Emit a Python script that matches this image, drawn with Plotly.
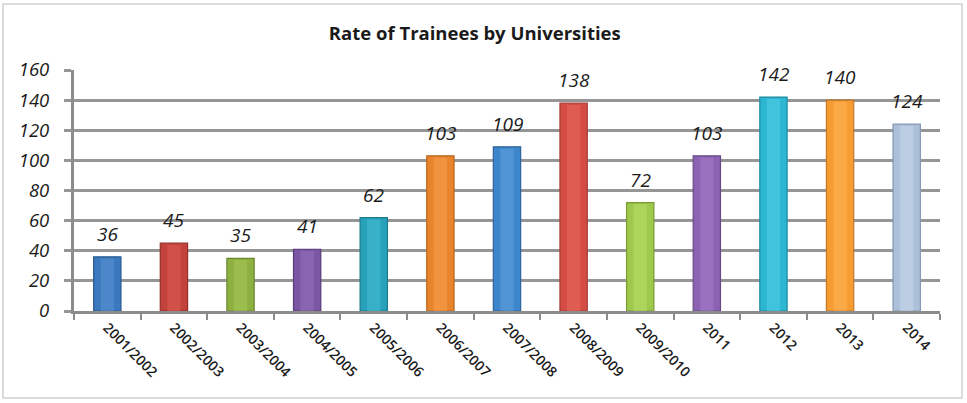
import plotly.graph_objects as go

# Academic years and trainee counts
years = ["2001/2002", "2002/2003", "2003/2004", "2004/2005", "2005/2006",
         "2006/2007", "2007/2008", "2008/2009", "2009/2010", "2011",
         "2012", "2013", "2014"]
trainees = [36, 45, 35, 41, 62, 103, 109, 138, 72, 103, 142, 140, 124]

# Bar body colours and darker edge shades
body_colors = ["#3b78bd", "#c3423b", "#8db040", "#7b56a2", "#28a2bb",
               "#e8842c", "#3e86cb", "#d44d44", "#9fc94c", "#8b63b2",
               "#2cb6d2", "#f79b33", "#adc0da"]
edge_colors = ["#2a5a92", "#93302b", "#6a8730", "#5a3e7a", "#1c7a8e",
               "#b7661f", "#2c6399", "#a63a33", "#789a35", "#684a87",
               "#1f8aa0", "#c47725", "#8296b3"]
shine_colors = ["#5a93d4", "#dc5e56", "#a6c95a", "#9673bd", "#45bdd4",
                "#f7a050", "#5fa0dd", "#e86a60", "#b8df6a", "#a57ec8",
                "#52cde6", "#ffb456", "#c9d8ec"]

fig = go.Figure()

# Main bars
fig.add_trace(go.Bar(
    x=years, y=trainees, width=0.41,
    marker=dict(color=body_colors, line=dict(color=edge_colors, width=1.2)),
    hoverinfo="x+y", showlegend=False,
))
# Lighter centre stripe for a rounded look
fig.add_trace(go.Bar(
    x=years, y=[v - 1.2 for v in trainees], width=0.2,
    marker=dict(color=shine_colors, opacity=0.55, line=dict(width=0)),
    hoverinfo="skip", showlegend=False,
))

# Value labels above bars (positioned by category index)
for i, v in enumerate(trainees):
    fig.add_annotation(
        x=i, y=v, text=str(v), showarrow=False, yanchor="bottom", yshift=8,
        font=dict(family="Open Sans", size=19, color="#1a1a1a", style="italic"),
    )

fig.update_layout(
    width=967, height=403,
    margin=dict(l=74, r=27, t=70, b=92),
    paper_bgcolor="white", plot_bgcolor="white",
    barmode="overlay",
    title=dict(text="<b>Rate of Trainees by Universities</b>", x=0.491, xanchor="center",
               y=0.918, yanchor="middle",
               font=dict(family="Open Sans", size=18.5, color="#1a1a1a")),
    xaxis=dict(
        type="category", range=[-0.5, len(years) - 0.5],
        tickangle=45, tickson="boundaries",
        ticks="outside", ticklen=6, tickwidth=2, tickcolor="#8c8c8c",
        showline=True, linecolor="#8c8c8c", linewidth=3,
        showgrid=False,
        tickfont=dict(family="Open Sans", size=14, color="#1a1a1a", weight=600),
    ),
    yaxis=dict(
        range=[0, 160], dtick=20,
        showgrid=True, gridcolor="#969696", gridwidth=3,
        zeroline=False,
        showline=True, linecolor="#8c8c8c", linewidth=3,
        ticks="outside", ticklen=7, tickwidth=3, tickcolor="#969696",
        ticklabelstandoff=11,
        tickfont=dict(family="Open Sans", size=18.5, color="#1a1a1a", style="italic"),
    ),
    shapes=[dict(type="rect", xref="paper", yref="paper",
                 x0=-71 / 866, x1=1 + 22 / 866, y0=-87 / 241, y1=1 + 66 / 241,
                 line=dict(color="#d0d0d0", width=1.5))],
)

fig.write_html("out.html")
